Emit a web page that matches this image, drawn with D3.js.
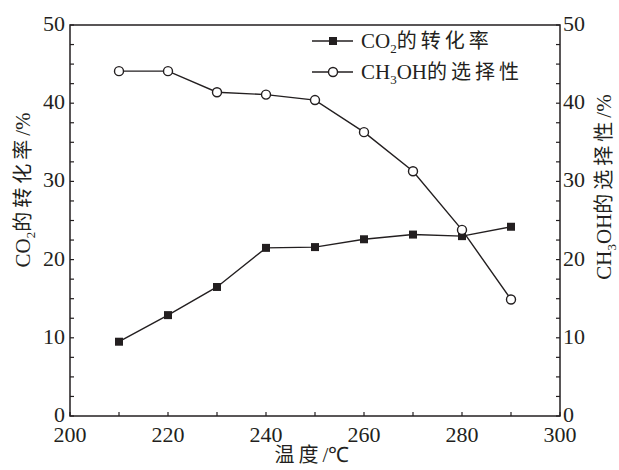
<!DOCTYPE html>
<html>
<head>
<meta charset="utf-8">
<script src="https://cdn.jsdelivr.net/npm/d3@7"></script>
<style>
  body { margin: 0; background: #fff; }
  svg text { fill: #231f20; }
</style>
</head>
<body>
<div id="chart"></div>
<script>
// temperature (°C)
const temps = [210, 220, 230, 240, 250, 260, 270, 280, 290];
// CO2 conversion (%), left axis
const co2Conv = [9.5, 12.9, 16.5, 21.5, 21.6, 22.6, 23.2, 23.0, 24.2];
// CH3OH selectivity (%), right axis
const ch3ohSel = [44.1, 44.1, 41.4, 41.1, 40.4, 36.3, 31.3, 23.8, 14.9];
const xTicks = [200, 220, 240, 260, 280, 300];
const yTicks = [0, 10, 20, 30, 40, 50];

const W = 619, H = 470;
const margin = { top: 25, right: 59, bottom: 54, left: 70 };
const serif = "'Liberation Serif', 'Times New Roman', serif";
const cjkFont = "'Noto Sans CJK SC', sans-serif";
const ink = "#231f20";

const svg = d3.select("#chart").append("svg")
  .attr("width", W).attr("height", H);

const x = d3.scaleLinear().domain([200, 300]).range([margin.left, W - margin.right]);
const yL = d3.scaleLinear().domain([0, 50]).range([H - margin.bottom, margin.top]);
const yR = d3.scaleLinear().domain([0, 50]).range([H - margin.bottom, margin.top]);

// mixed latin / subscript / chinese text
function rich(sel, parts) {
  parts.forEach(p => {
    const t = sel.append("tspan").text(p.t);
    if (p.sub) {
      t.attr("dy", 5).style("font-size", "13px").style("font-family", serif);
    } else {
      if (p.after) t.attr("dy", -5);
      if (p.cjk) t.style("font-family", cjkFont).style("font-size", "20px").style("letter-spacing", "4px");
      else t.style("font-family", serif).style("font-size", "21px");
    }
  });
}

// frame
svg.append("rect")
  .attr("x", x(200)).attr("y", yL(50))
  .attr("width", x(300) - x(200)).attr("height", yL(0) - yL(50))
  .attr("fill", "none").attr("stroke", ink).attr("stroke-width", 1.5);

// ticks (inward), minor every 2.5 on y, every 10 on x
const minorY = d3.range(0, 50.01, 2.5);
const minorX = d3.range(200, 300.01, 10);

svg.append("g").selectAll("line").data(minorY).enter().append("line")
  .attr("x1", x(200)).attr("x2", x(200) + 4)
  .attr("y1", d => yL(d)).attr("y2", d => yL(d))
  .attr("stroke", ink).attr("stroke-width", 1.2);
svg.append("g").selectAll("line").data(minorY).enter().append("line")
  .attr("x1", x(300)).attr("x2", x(300) - 4)
  .attr("y1", d => yR(d)).attr("y2", d => yR(d))
  .attr("stroke", ink).attr("stroke-width", 1.2);
svg.append("g").selectAll("line").data(minorX).enter().append("line")
  .attr("x1", d => x(d)).attr("x2", d => x(d))
  .attr("y1", yL(0)).attr("y2", yL(0) - 4)
  .attr("stroke", ink).attr("stroke-width", 1.2);

// tick labels
svg.append("g").selectAll("text").data(yTicks).enter().append("text")
  .attr("x", x(200) - 5).attr("y", d => yL(d) + 6)
  .attr("text-anchor", "end")
  .style("font-family", serif).style("font-size", "22px")
  .text(d => d);
svg.append("g").selectAll("text").data(yTicks).enter().append("text")
  .attr("x", x(300) + 3).attr("y", d => yR(d) + 6)
  .attr("text-anchor", "start")
  .style("font-family", serif).style("font-size", "22px")
  .text(d => d);
svg.append("g").selectAll("text").data(xTicks).enter().append("text")
  .attr("x", d => x(d)).attr("y", yL(0) + 26)
  .attr("text-anchor", "middle")
  .style("font-family", serif).style("font-size", "22px")
  .text(d => d);

// axis titles
const xTitle = svg.append("text")
  .attr("x", 312).attr("y", H - 8)
  .attr("text-anchor", "middle");
rich(xTitle, [{ t: "温度", cjk: true }, { t: "/℃" }]);

const leftTitle = svg.append("text")
  .attr("transform", `translate(30,190) rotate(-90)`)
  .attr("text-anchor", "middle");
rich(leftTitle, [{ t: "CO" }, { t: "2", sub: true }, { t: "的转化率", cjk: true, after: true }, { t: "/%" }]);

const rightTitle = svg.append("text")
  .attr("transform", `translate(611,187) rotate(-90)`)
  .attr("text-anchor", "middle");
rich(rightTitle, [{ t: "CH" }, { t: "3", sub: true }, { t: "OH", after: true }, { t: "的选择性", cjk: true }, { t: "/%" }]);

// lines
const lineL = d3.line().x((d, i) => x(temps[i])).y(d => yL(d));
const lineR = d3.line().x((d, i) => x(temps[i])).y(d => yR(d));

svg.append("path").datum(co2Conv).attr("d", lineL)
  .attr("fill", "none").attr("stroke", ink).attr("stroke-width", 1.4);
svg.append("path").datum(ch3ohSel).attr("d", lineR)
  .attr("fill", "none").attr("stroke", ink).attr("stroke-width", 1.4);

const sq = d3.symbol().type(d3.symbolSquare).size(64);
svg.append("g").selectAll("path").data(co2Conv).enter().append("path")
  .attr("d", sq)
  .attr("transform", (d, i) => `translate(${x(temps[i])},${yL(d)})`)
  .attr("fill", ink);

svg.append("g").selectAll("circle").data(ch3ohSel).enter().append("circle")
  .attr("cx", (d, i) => x(temps[i])).attr("cy", d => yR(d))
  .attr("r", 4.5)
  .attr("fill", "#fff").attr("stroke", ink).attr("stroke-width", 1.4);

// legend
const lg = svg.append("g");
const rows = [
  { y: 41, sym: "square", parts: [{ t: "CO" }, { t: "2", sub: true }, { t: "的转化率", cjk: true, after: true }] },
  { y: 72, sym: "circle", parts: [{ t: "CH" }, { t: "3", sub: true }, { t: "OH", after: true }, { t: "的选择性", cjk: true }] }
];
rows.forEach(r => {
  lg.append("line").attr("x1", 312).attr("x2", 353)
    .attr("y1", r.y).attr("y2", r.y)
    .attr("stroke", ink).attr("stroke-width", 1.4);
  if (r.sym === "square") {
    lg.append("path").attr("d", sq).attr("transform", `translate(333,${r.y})`).attr("fill", ink);
  } else {
    lg.append("circle").attr("cx", 333).attr("cy", r.y).attr("r", 4.5)
      .attr("fill", "#fff").attr("stroke", ink).attr("stroke-width", 1.4);
  }
  const t = lg.append("text").attr("x", 361).attr("y", r.y + 7);
  rich(t, r.parts);
});
</script>
</body>
</html>
